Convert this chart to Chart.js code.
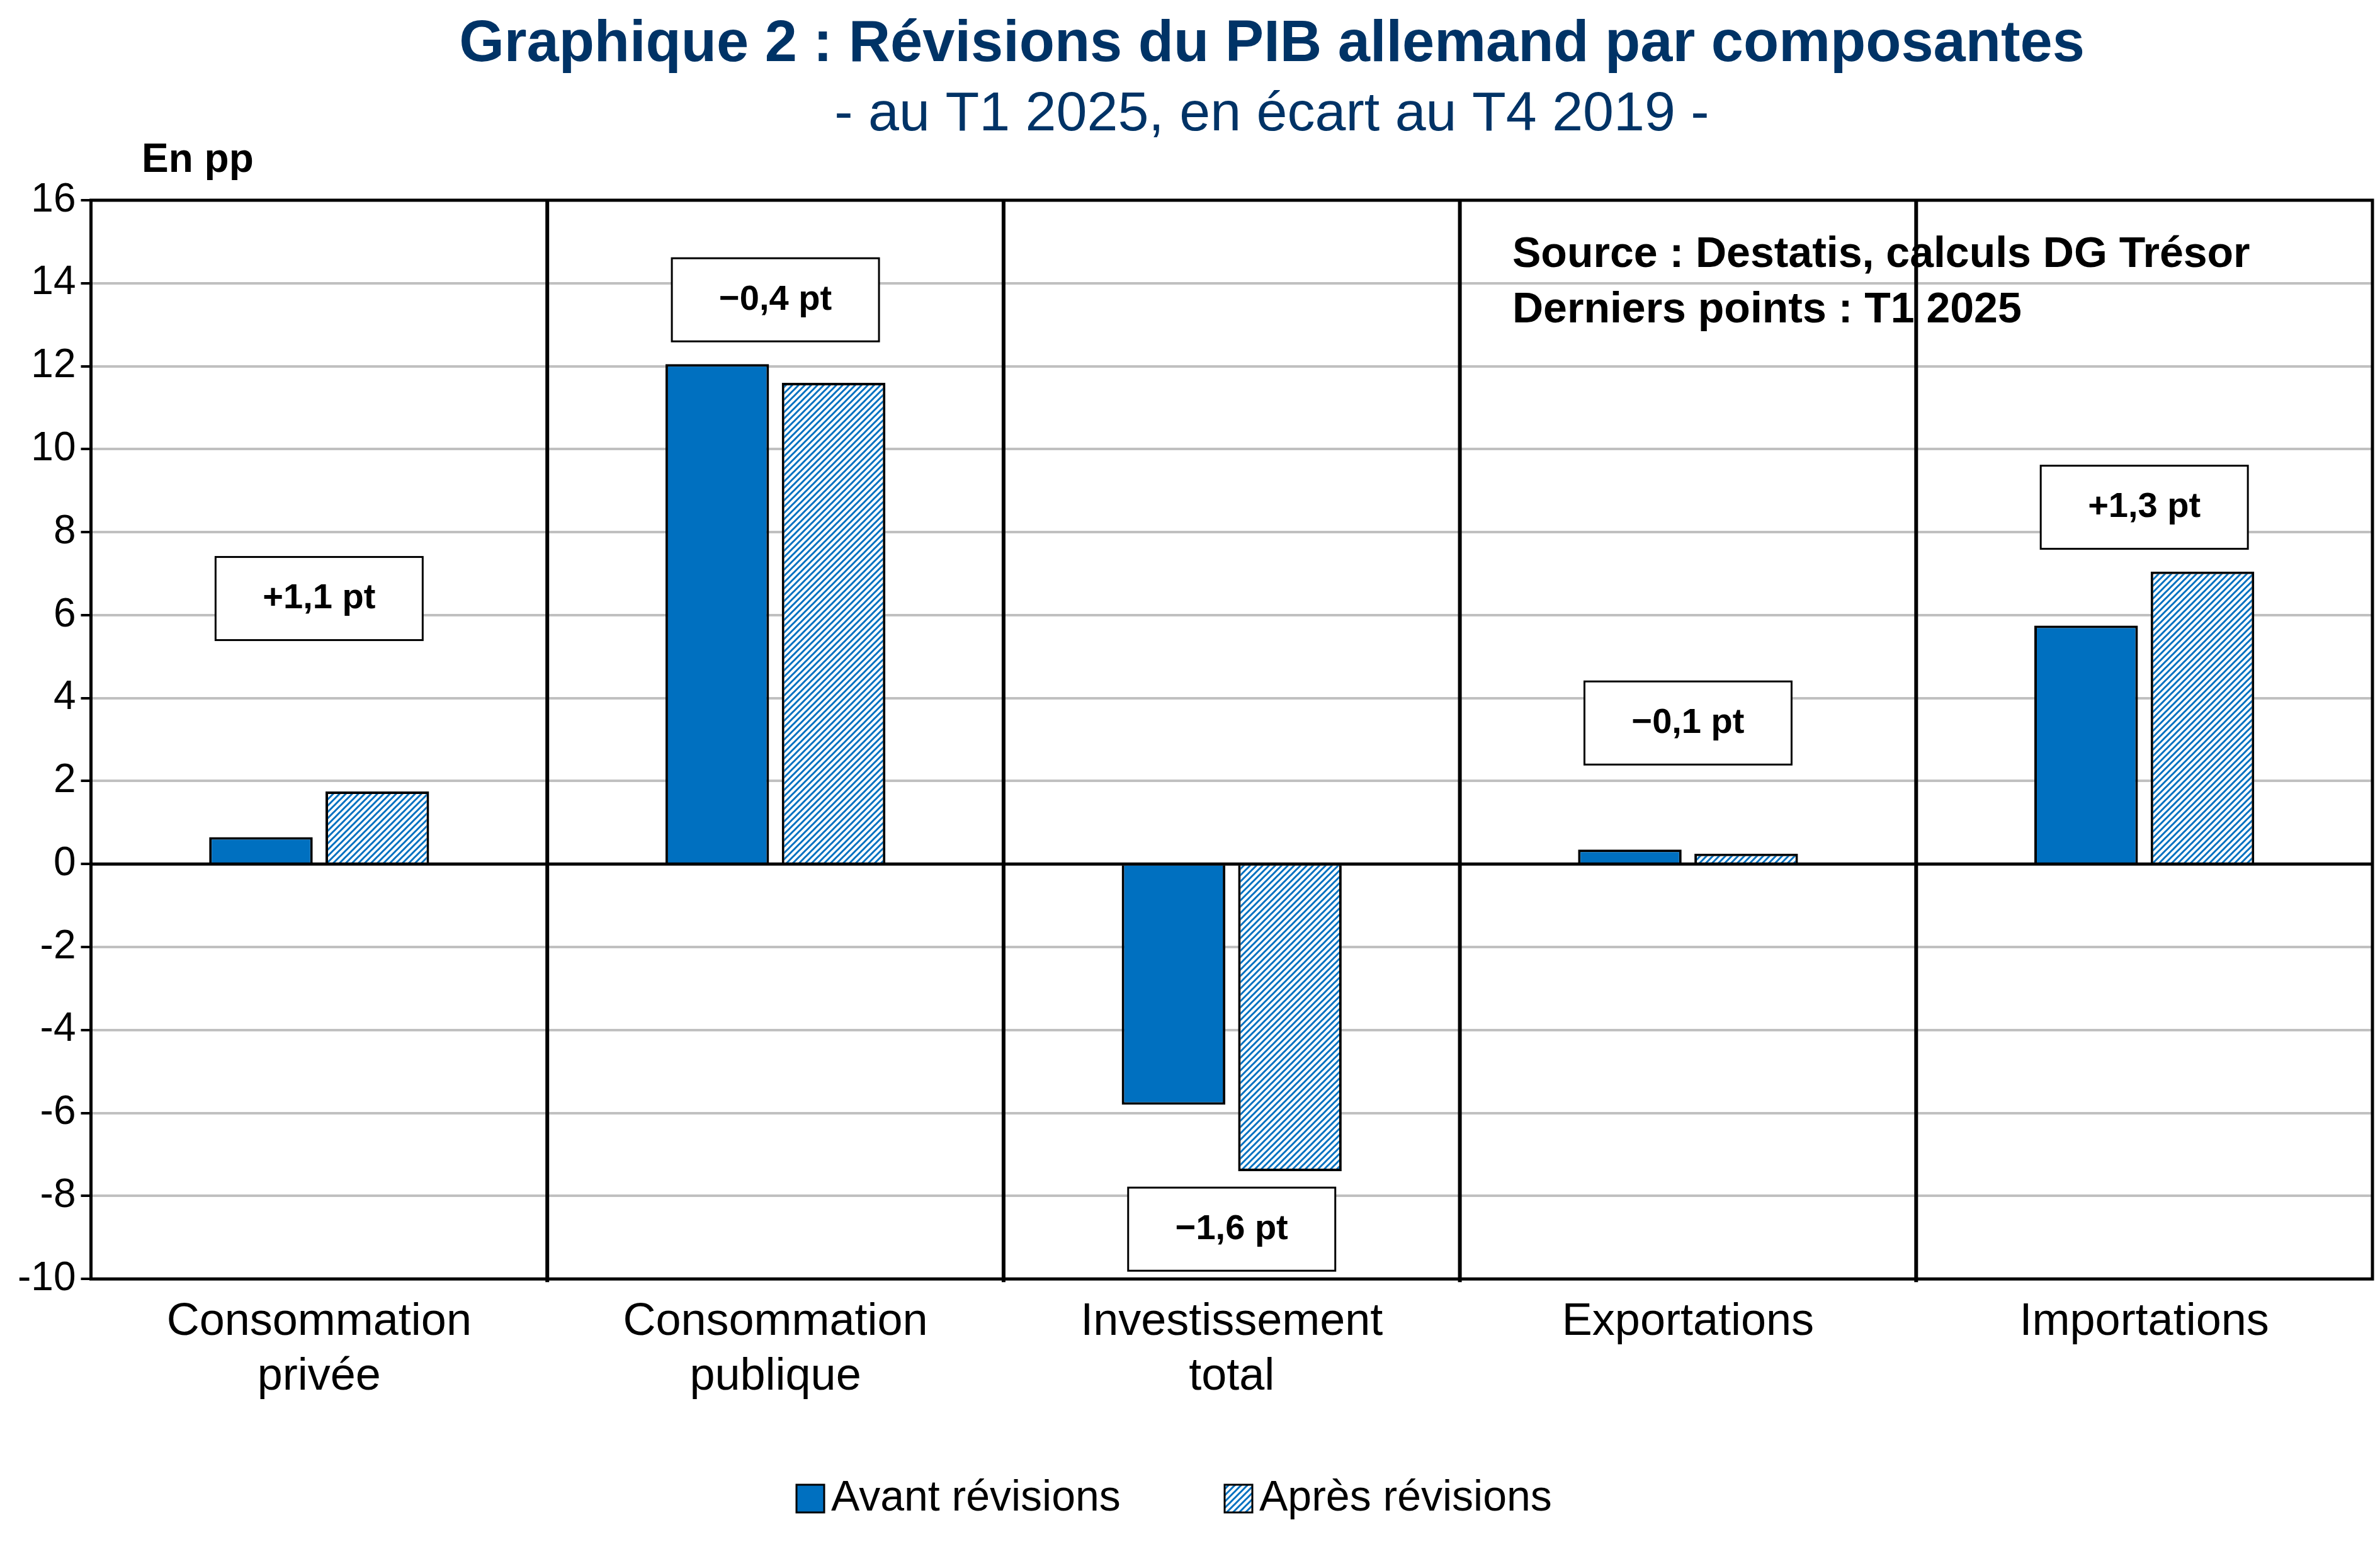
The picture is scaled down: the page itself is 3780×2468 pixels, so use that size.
<!DOCTYPE html>
<html><head><meta charset="utf-8">
<script src="https://cdn.jsdelivr.net/npm/chart.js@4"></script>
<style>html,body{margin:0;padding:0;background:#fff}</style>
</head><body>
<canvas id="c" width="3780" height="2468"></canvas>
<script>
const categories = [["Consommation","privée"],["Consommation","publique"],["Investissement","total"],["Exportations"],["Importations"]];
const avantRevisions = [0.65, 12.05, -5.8, 0.35, 5.75];
const apresRevisions = [1.75, 11.6, -7.4, 0.25, 7.05];
const revisionLabels = ["+1,1 pt","\u22120,4 pt","\u22121,6 pt","\u22120,1 pt","+1,3 pt"];
const revisionLabelY = [6.4, 13.6, -8.8, 3.4, 8.6];
const yTicks = [-10,-8,-6,-4,-2,0,2,4,6,8,10,12,14,16];

const F = "Arial, 'Liberation Sans', sans-serif";
const BLUE = "#0070c0";

function hatch(){
  const p=document.createElement('canvas'); p.width=10; p.height=10;
  const g=p.getContext('2d');
  g.fillStyle='#fff'; g.fillRect(0,0,10,10);
  g.strokeStyle=BLUE; g.lineWidth=3;
  g.beginPath();
  g.moveTo(-2,12); g.lineTo(12,-2);
  g.moveTo(-2,2); g.lineTo(2,-2);
  g.moveTo(8,12); g.lineTo(12,8);
  g.stroke();
  return document.getElementById('c').getContext('2d').createPattern(p,'repeat');
}

const extras = {
  id:'extras',
  afterDraw(chart){
    const {ctx, chartArea:a, scales:{x,y}} = chart;
    ctx.save();
    // frame
    ctx.strokeStyle='#000'; ctx.lineWidth=5;
    ctx.strokeRect(a.left,a.top,a.right-a.left,a.bottom-a.top);
    // zero line
    ctx.lineWidth=5; ctx.beginPath();
    ctx.moveTo(a.left,y.getPixelForValue(0)); ctx.lineTo(a.right,y.getPixelForValue(0)); ctx.stroke();
    // separators
    ctx.lineWidth=6;
    for(let i=1;i<categories.length;i++){
      const px=(x.getPixelForValue(i-1)+x.getPixelForValue(i))/2;
      ctx.beginPath(); ctx.moveTo(px,a.top); ctx.lineTo(px,a.bottom+5); ctx.stroke();
    }
    // annotation boxes
    ctx.font="bold 56px "+F; ctx.textAlign='center'; ctx.textBaseline='middle';
    revisionLabels.forEach((t,i)=>{
      const cx=x.getPixelForValue(i), cy=y.getPixelForValue(revisionLabelY[i]);
      const w=ctx.measureText(t).width+150, h=132;
      ctx.fillStyle='#fff'; ctx.fillRect(cx-w/2,cy-h/2,w,h);
      ctx.lineWidth=3; ctx.strokeRect(cx-w/2,cy-h/2,w,h);
      ctx.fillStyle='#000'; ctx.fillText(t,cx,cy);
    });
    // source
    ctx.textAlign='left'; ctx.textBaseline='middle'; ctx.font="bold 68px "+F;
    ctx.fillText("Source : Destatis, calculs DG Trésor",2402,405);
    ctx.fillText("Derniers points : T1 2025",2402,493);
    // titles
    ctx.textAlign='center';
    ctx.fillStyle='#003366'; ctx.font="bold 92px "+F;
    ctx.fillText("Graphique 2 : Révisions du PIB allemand par composantes",2020,72);
    ctx.font="88px "+F;
    ctx.fillText("- au T1 2025, en écart au T4 2019 -",2020,183);
    ctx.fillStyle='#000'; ctx.textAlign='left'; ctx.font="bold 64px "+F;
    ctx.fillText("En pp",225,255);
    // legend
    ctx.font="68px "+F; ctx.textBaseline='middle';
    const ly=2380;
    ctx.fillStyle=BLUE; ctx.fillRect(1265,ly-22,44,44); ctx.lineWidth=3; ctx.strokeRect(1265,ly-22,44,44);
    ctx.fillStyle='#000'; ctx.fillText("Avant révisions",1320,ly);
    ctx.fillStyle=chart.data.datasets[1].backgroundColor; ctx.fillRect(1945,ly-22,44,44); ctx.strokeRect(1945,ly-22,44,44);
    ctx.fillStyle='#000'; ctx.fillText("Après révisions",2000,ly);
    ctx.restore();
  }
};

new Chart(document.getElementById('c'),{
  type:'bar',
  data:{labels:categories,datasets:[
    {label:"Avant révisions",data:avantRevisions,backgroundColor:BLUE,borderColor:'#000',borderWidth:4,barPercentage:0.89,categoryPercentage:0.51},
    {label:"Après révisions",data:apresRevisions,backgroundColor:hatch(),borderColor:'#000',borderWidth:4,barPercentage:0.89,categoryPercentage:0.51}
  ]},
  options:{
    responsive:false, animation:false, devicePixelRatio:1,
    layout:{padding:{top:318,left:20,right:12,bottom:220}},
    plugins:{legend:{display:false},title:{display:false},tooltip:{enabled:false}},
    scales:{
      x:{grid:{display:false},border:{display:false},
         ticks:{color:'#000',font:{family:F,size:72},padding:18}},
      y:{min:-10,max:16,afterBuildTicks(s){s.ticks=yTicks.map(v=>({value:v}));},
         grid:{color:'#c0c0c0',lineWidth:4,drawTicks:true,tickLength:16,tickColor:'#000'},
         border:{color:'#000',width:5},
         ticks:{color:'#000',font:{family:F,size:64},padding:8}}
    }
  },
  plugins:[extras]
});
</script>
</body></html>
